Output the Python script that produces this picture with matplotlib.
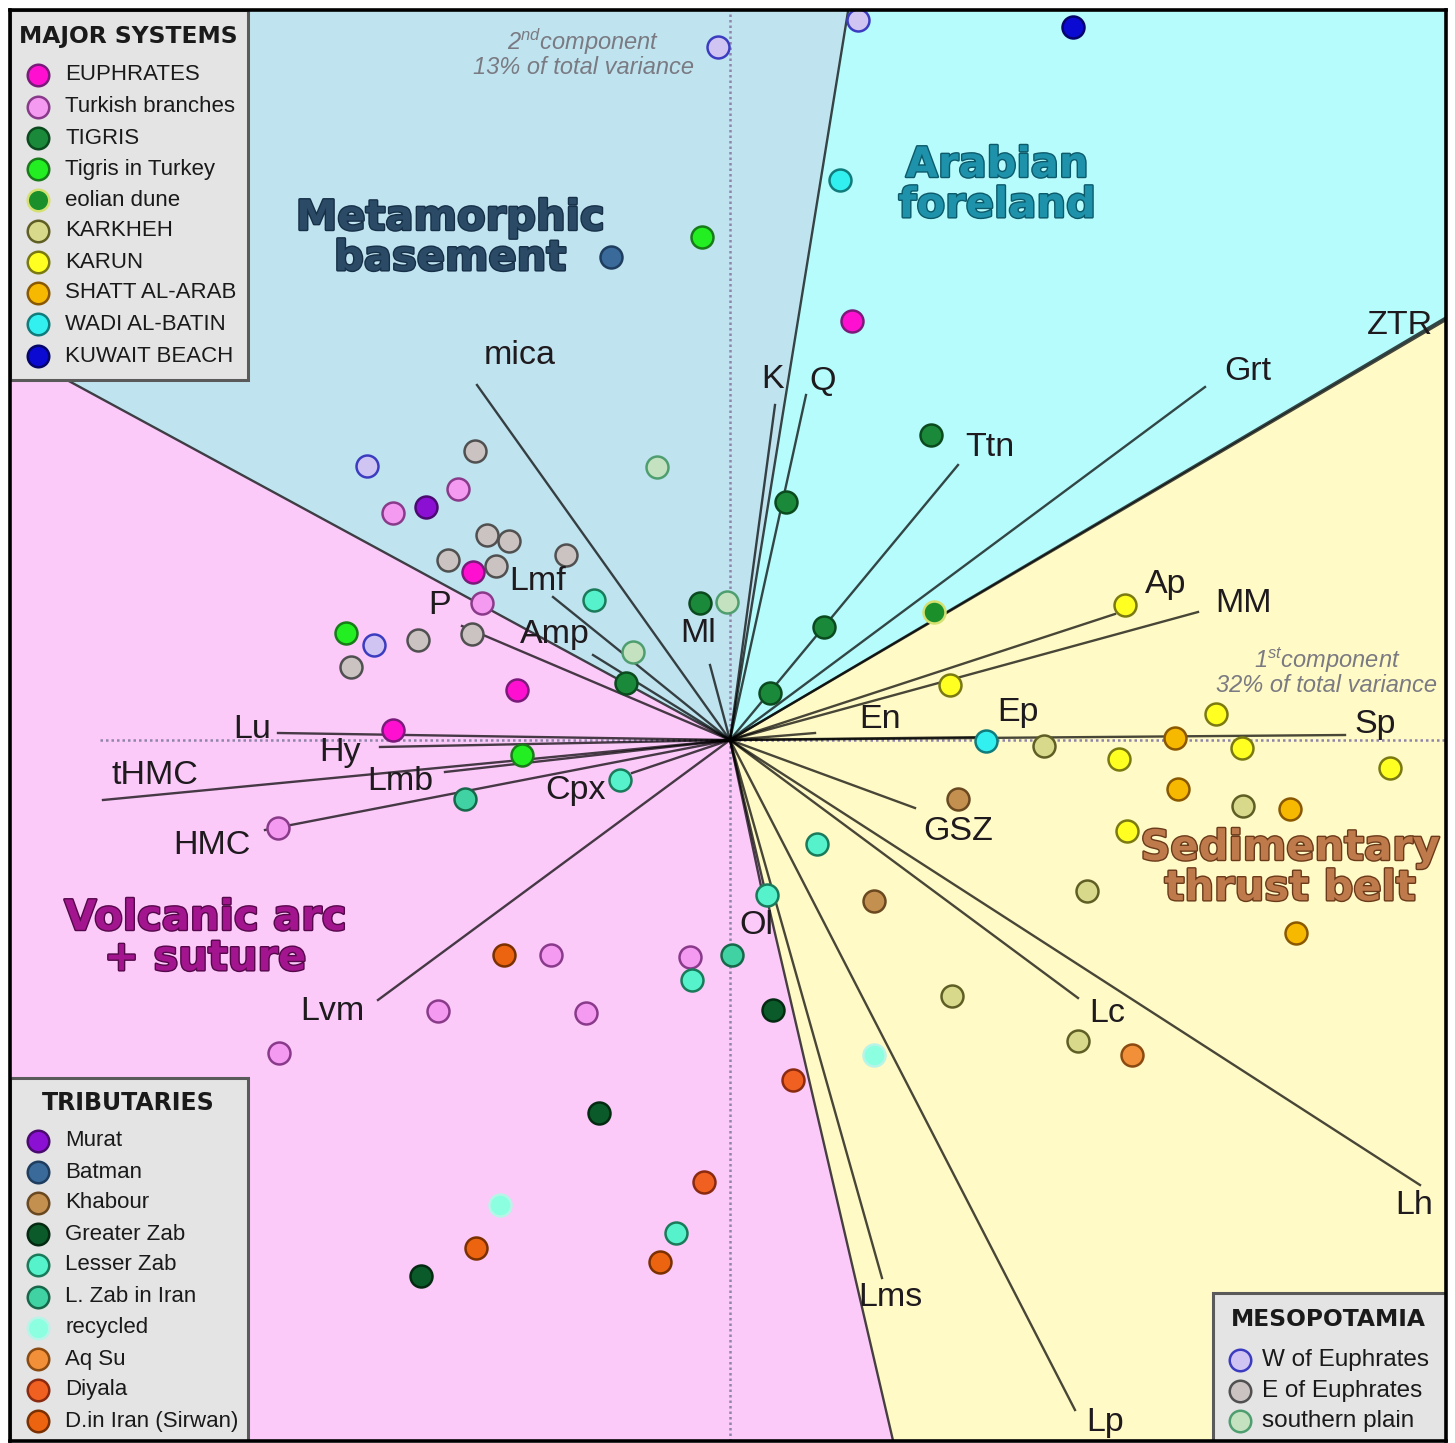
import math
import matplotlib
matplotlib.use("Agg")
import matplotlib.pyplot as plt
from matplotlib.patches import Wedge, Rectangle
import matplotlib.patheffects as pe

# ---------------- DATA ----------------
# sample scores on the 1st (x) and 2nd (y) principal components
sample_pc1 = [1.28, -0.12, 3.43, 1.10, -0.28, -1.19, 1.22, 2.01, 0.56, 0.94,
              0.40, 2.04, -0.73, -2.55, -3.63, -2.72, -3.37, -3.04, -2.43, -2.21,
              -2.82, -2.34, -1.64, -2.57, -2.48, -1.36, -0.30, -0.03, -2.58, -3.12,
              -3.84, -3.56, -3.79, -0.97, -1.04, -2.13, -3.37, -2.08, -1.10, -2.65,
              -4.52, 2.20, 3.95, 4.86, 2.56, 3.14, 4.45, 5.12, 3.89, 6.60,
              4.48, 5.13, 5.60, 3.97, 5.66, 3.57, 2.28, 1.44, 0.87, 0.37,
              2.22, 3.48, 4.02, 1.44, 0.43, 0.63, 0.02, -0.40, -0.38, -2.26,
              -1.79, -2.92, -1.44, -4.51, -1.31, -0.26, -2.30, -0.54, -2.54, -0.70,
              -3.09]
sample_pc2 = [7.20, 6.93, 7.13, 5.60, 5.03, 4.83, 4.19, 3.05, 2.38, 1.13,
              0.47, 1.28, 2.73, 2.89, 2.74, 2.51, 2.27, 2.33, 2.05, 1.99,
              1.80, 1.74, 1.85, 1.68, 1.37, 1.40, 1.37, 1.38, 1.06, 1.00,
              1.07, 0.95, 0.73, 0.88, 0.57, 0.50, 0.10, -0.15, -0.40, -0.59,
              -0.88, 0.55, 1.35, 0.26, -0.01, -0.06, 0.02, -0.08, -0.19, -0.28,
              -0.49, -0.66, -0.69, -0.91, -1.93, -1.51, -0.59, -1.61, -1.04, -1.55,
              -2.56, -3.01, -3.15, -3.15, -2.70, -3.40, -2.15, -2.17, -2.40, -2.15,
              -2.15, -2.71, -2.73, -3.13, -3.73, -4.42, -4.65, -4.93, -5.08, -5.22,
              -5.36]
sample_source = ["W of Euphrates", "W of Euphrates", "KUWAIT BEACH", "WADI AL-BATIN", "Tigris in Turkey",
                 "Batman", "EUPHRATES", "TIGRIS", "TIGRIS", "TIGRIS",
                 "TIGRIS", "eolian dune", "southern plain", "E of Euphrates", "W of Euphrates",
                 "Turkish branches", "Turkish branches", "Murat", "E of Euphrates", "E of Euphrates",
                 "E of Euphrates", "E of Euphrates", "E of Euphrates", "EUPHRATES", "Turkish branches",
                 "Lesser Zab", "TIGRIS", "southern plain", "E of Euphrates", "E of Euphrates",
                 "Tigris in Turkey", "W of Euphrates", "E of Euphrates", "southern plain", "TIGRIS",
                 "EUPHRATES", "EUPHRATES", "Tigris in Turkey", "Lesser Zab", "L. Zab in Iran",
                 "Turkish branches", "KARUN", "KARUN", "KARUN", "WADI AL-BATIN",
                 "KARKHEH", "SHATT AL-ARAB", "KARUN", "KARUN", "KARUN",
                 "SHATT AL-ARAB", "KARKHEH", "SHATT AL-ARAB", "KARUN", "SHATT AL-ARAB",
                 "KARKHEH", "Khabour", "Khabour", "Lesser Zab", "Lesser Zab",
                 "KARKHEH", "KARKHEH", "Aq Su", "recycled", "Greater Zab",
                 "Diyala", "L. Zab in Iran", "Turkish branches", "Lesser Zab", "D.in Iran (Sirwan)",
                 "Turkish branches", "Turkish branches", "Turkish branches", "Turkish branches", "Greater Zab",
                 "Diyala", "recycled", "Lesser Zab", "D.in Iran (Sirwan)", "D.in Iran (Sirwan)",
                 "Greater Zab"]

# loadings of the variables (biplot rays)
loading_names = ["mica", "K", "Q", "Ttn", "Grt", "ZTR", "Ap", "MM", "En", "Ep", "Sp",
                 "GSZ", "Lc", "Lh", "Lp", "Lms", "Ol", "Lvm", "Cpx", "HMC", "tHMC",
                 "Lmb", "Hy", "Lu", "P", "Amp", "Lmf", "Ml"]
loading_pc1 = [-2.53, 0.45, 0.76, 2.28, 4.75, 7.15, 3.85, 4.68, 0.85, 2.60, 6.15,
               1.85, 3.48, 6.90, 3.45, 1.52, 0.35, -3.52, -0.98, -4.65, -6.27,
               -2.85, -3.50, -4.52, -2.68, -1.37, -1.77, -0.20]
loading_pc2 = [3.55, 3.35, 3.45, 2.75, 3.53, 4.22, 1.26, 1.28, 0.07, 0.03, 0.05,
               -0.68, -2.58, -4.45, -6.70, -5.38, -1.65, -2.60, -0.33, -0.90, -0.60,
               -0.32, -0.07, 0.07, 1.14, 0.85, 1.43, 0.75]

# provenance fields (angular sectors, degrees)
region_names = ["Metamorphic\nbasement", "Arabian\nforeland", "Sedimentary\nthrust belt", "Volcanic arc\n+ suture"]
region_theta1 = [80.8, 30.4, -76.9, 151.5]
region_theta2 = [151.5, 80.8, 30.4, 283.1]

major_systems = ["EUPHRATES", "Turkish branches", "TIGRIS", "Tigris in Turkey", "eolian dune",
                 "KARKHEH", "KARUN", "SHATT AL-ARAB", "WADI AL-BATIN", "KUWAIT BEACH"]
tributaries = ["Murat", "Batman", "Khabour", "Greater Zab", "Lesser Zab", "L. Zab in Iran",
               "recycled", "Aq Su", "Diyala", "D.in Iran (Sirwan)"]
mesopotamia = ["W of Euphrates", "E of Euphrates", "southern plain"]

# ---------------- STYLE ----------------
STYLE = {
    "EUPHRATES": ("#ff10d0", "#7a1a7a"),
    "Turkish branches": ("#f49af0", "#8a3a8a"),
    "TIGRIS": ("#1a8a3a", "#0b4a1e"),
    "Tigris in Turkey": ("#22ee22", "#187a18"),
    "eolian dune": ("#1a8f2a", "#d4e070"),
    "KARKHEH": ("#d9d98c", "#5f5f25"),
    "KARUN": ("#ffff22", "#7a7a10"),
    "SHATT AL-ARAB": ("#f7b800", "#8a5800"),
    "WADI AL-BATIN": ("#33f0f0", "#107c7c"),
    "KUWAIT BEACH": ("#0a0ad2", "#05056a"),
    "Murat": ("#8c10d4", "#4a0a70"),
    "Batman": ("#3a6a9a", "#1f3d5e"),
    "Khabour": ("#c49050", "#6a4820"),
    "Greater Zab": ("#0a5a2a", "#042a12"),
    "Lesser Zab": ("#55f2cc", "#1a7a5a"),
    "L. Zab in Iran": ("#40d2a2", "#17684a"),
    "recycled": ("#8cffe0", "#b8f4e8"),
    "Aq Su": ("#f2903a", "#8a4a10"),
    "Diyala": ("#f06020", "#8a2a10"),
    "D.in Iran (Sirwan)": ("#ec6410", "#7a3000"),
    "W of Euphrates": ("#cfc4f2", "#3c3cc0"),
    "E of Euphrates": ("#cbc2c2", "#505050"),
    "southern plain": ("#c4e2c0", "#4f9e70"),
}

REGION_FILL = ["#c0e4ef", "#b6fcfc", "#fffac6", "#fbcaf9"]
REGION_TEXT = [("#2a4a66", "#173048"), ("#1d92aa", "#0d5a6a"),
               ("#bf7a4c", "#6a3a1a"), ("#a3158e", "#55084a")]
REGION_TEXT_POS = [(450, 238), (997, 185), (1290, 868), (205, 938)]

LABEL_POS = {"mica": (520, 355), "K": (773, 380), "Q": (823, 382), "Ttn": (990, 448),
             "Grt": (1248, 372), "ZTR": (1400, 325), "Ap": (1166, 585), "MM": (1243, 604),
             "En": (880, 720), "Ep": (1018, 712), "Sp": (1375, 724), "GSZ": (958, 832),
             "Lc": (1107, 1013), "Lh": (1414, 1205), "Lp": (1105, 1422), "Lms": (890, 1298),
             "Ol": (756, 925), "Lvm": (332, 1012), "Cpx": (575, 790), "HMC": (212, 845),
             "tHMC": (155, 775), "Lmb": (400, 782), "Hy": (340, 752), "Lu": (252, 730),
             "P": (440, 605), "Amp": (555, 635), "Lmf": (538, 582), "Ml": (698, 633)}


def X(px):
    return (px - 730) / 100.0


def Y(py):
    return (740 - py) / 100.0


FONT = "Liberation Sans"
plt.rcParams["font.family"] = [FONT, "DejaVu Sans"]
plt.rcParams["mathtext.fontset"] = "custom"
plt.rcParams["mathtext.it"] = "Liberation Sans:italic"
plt.rcParams["mathtext.rm"] = "Liberation Sans:italic"

fig = plt.figure(figsize=(14.55, 14.43), dpi=100)
ax = fig.add_axes([10 / 1455, 2 / 1443, 1436 / 1455, 1431 / 1443])
ax.set_xlim(X(10), X(1446))
ax.set_ylim(Y(1441), Y(10))
ax.set_xticks([])
ax.set_yticks([])
for s in ax.spines.values():
    s.set_linewidth(2.6)
    s.set_color("black")
    s.set_zorder(20)

# sectors
for fc, t1, t2 in zip(REGION_FILL, region_theta1, region_theta2):
    ax.add_patch(Wedge((0, 0), 40, t1, t2, facecolor=fc, edgecolor="none", zorder=0))

# dotted PCA axes
ax.plot([0, 0], [Y(1441), Y(10)], color="#8f84aa", lw=1.8, ls=(0, (1, 1.2)), zorder=1)
ax.plot([X(100), X(1446)], [0, 0], color="#8f84aa", lw=1.8, ls=(0, (1, 1.2)), zorder=1)

# sector boundary rays
for t in [151.5, 80.8, 30.4, -76.9]:
    r = 30
    ax.plot([0, r * math.cos(math.radians(t))], [0, r * math.sin(math.radians(t))],
            color="black", alpha=0.72, lw=1.7, zorder=2, solid_capstyle="butt")

# loading rays
for name, lx, ly in zip(loading_names, loading_pc1, loading_pc2):
    ax.plot([0, lx], [0, ly], color="black", alpha=0.72, lw=1.7, zorder=2)
    tx, ty = LABEL_POS[name]
    ax.text(X(tx), Y(ty), name, fontsize=24.5, color="#1e1a1e", ha="center", va="center",
            zorder=6, family=FONT)

# samples
for x, y, src in zip(sample_pc1, sample_pc2, sample_source):
    fc, ec = STYLE[src]
    ax.scatter([x], [y], s=250, facecolor=fc, edgecolor=ec, linewidth=1.8, zorder=5)

# region labels
for name, (fc, ec), (tx, ty) in zip(region_names, REGION_TEXT, REGION_TEXT_POS):
    ax.text(X(tx), Y(ty), name, fontsize=30, fontweight="bold", family="DejaVu Sans",
            color=fc, ha="center", va="center", linespacing=0.95, zorder=7,
            path_effects=[pe.withStroke(linewidth=2.0, foreground=ec)])

# component annotations
for (tx, ty), s in zip([(583, 42), (583, 68), (1327, 660), (1327, 686)],
                       [r"2$^{nd}$component", "13% of total variance",
                        r"1$^{st}$component", "32% of total variance"]):
    ax.text(X(tx), Y(ty), s, fontsize=17, style="italic", color="#7a7a82",
            ha="center", va="center", zorder=6)


# legends
def legend_box(x0, y0, x1, y1, title, title_pos, names, circ_x, text_x, ys, fs, tfs):
    ax.add_patch(Rectangle((X(x0), Y(y1)), X(x1) - X(x0), Y(y0) - Y(y1),
                           facecolor="#e4e4e4", edgecolor="#5a5a5a", lw=2.2, zorder=10))
    ax.text(X(title_pos[0]), Y(title_pos[1]), title, fontsize=tfs, fontweight="bold",
            family="DejaVu Sans", color="#1a1a1a", ha="center", va="center", zorder=11)
    for nm, yy in zip(names, ys):
        fc, ec = STYLE[nm]
        ax.scatter([X(circ_x)], [Y(yy)], s=240, facecolor=fc, edgecolor=ec, linewidth=1.8, zorder=11)
        ax.text(X(text_x), Y(yy), nm, fontsize=fs, color="#1a1a1a", ha="left", va="center", zorder=11)


legend_box(10, 10, 248, 380, "MAJOR SYSTEMS", (128, 37), major_systems, 38, 65,
           [75, 107, 138, 169, 200, 231, 262, 293, 324, 356], 16.0, 16.8)
legend_box(10, 1078, 248, 1441, "TRIBUTARIES", (128, 1103), tributaries, 38, 65,
           [1141, 1172, 1203, 1234, 1265, 1297, 1328, 1359, 1390, 1421], 16.0, 17.0)
legend_box(1213, 1293, 1446, 1441, "MESOPOTAMIA", (1328, 1320), mesopotamia, 1240, 1262,
           [1360, 1391, 1421], 17.5, 16.8)

fig.savefig("out.png", dpi=100)
